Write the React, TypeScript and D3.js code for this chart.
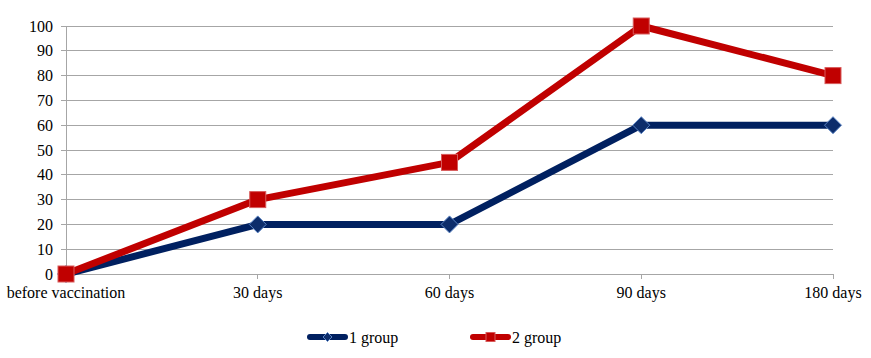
import React from "react";
import * as d3 from "d3";

const categories = ["before vaccination", "30 days", "60 days", "90 days", "180 days"];
const group1 = [0, 20, 20, 60, 60];
const group2 = [0, 30, 45, 100, 80];
const yTicks = [0, 10, 20, 30, 40, 50, 60, 70, 80, 90, 100];
const seriesNames = ["1 group", "2 group"];

const W = 871;
const H = 358;
const GRID = "#a6a6a6";
const FONT = "Liberation Serif";
const FS = 16;

const diamond = (cx: number, cy: number, r: number) =>
  `M${cx},${cy - r}L${cx + r},${cy}L${cx},${cy + r}L${cx - r},${cy}Z`;

export default function App() {
  const x = d3.scalePoint<string>().domain(categories).range([66, 833]);
  const y = d3.scaleLinear().domain([0, 100]).range([274, 26]);
  const line = d3.line<number>().x((_, i) => x(categories[i])!).y(d => y(d));
  const ly = 337;
  const legend = [
    { x0: 307, color: "#002060", name: seriesNames[0], kind: "diamond" },
    { x0: 470, color: "#c00000", name: seriesNames[1], kind: "square" },
  ];
  return (
    <svg width={W} height={H}
      style={{ position: "absolute", left: 0, top: 0, background: "#fff", display: "block" }}>
      <g shapeRendering="crispEdges" stroke={GRID}>
        {yTicks.filter(t => t > 0).map(t => (
          <line key={"g" + t} x1={66} x2={833} y1={y(t)} y2={y(t)} />
        ))}
        <line x1={66} x2={66} y1={y(100)} y2={y(0)} />
        {yTicks.map(t => (
          <line key={"t" + t} x1={61} x2={66} y1={y(t)} y2={y(t)} />
        ))}
        <line x1={66} x2={833} y1={y(0)} y2={y(0)} />
        {categories.map(c => (
          <line key={"x" + c} x1={x(c)} x2={x(c)} y1={y(0)} y2={y(0) + 5} />
        ))}
      </g>
      {yTicks.map(t => (
        <text key={"l" + t} x={53} y={y(t) + 5.5} textAnchor="end" fill="#000"
          fontFamily={FONT} fontSize={FS}>{t}</text>
      ))}
      {categories.map(c => (
        <text key={"c" + c} x={x(c)} y={298} textAnchor="middle" fill="#000"
          fontFamily={FONT} fontSize={FS}>{c}</text>
      ))}
      <path d={line(group1) || ""} fill="none" stroke="#002060" strokeWidth={7} strokeLinejoin="round" />
      {group1.map((d, i) => (
        <path key={"d" + i} d={diamond(x(categories[i])!, y(d), 8.5)}
          fill="#0d2d6b" stroke="#5b84c4" strokeWidth={1} />
      ))}
      <path d={line(group2) || ""} fill="none" stroke="#c00000" strokeWidth={7} strokeLinejoin="round" />
      {group2.map((d, i) => (
        <rect key={"s" + i} x={x(categories[i])! - 8} y={y(d) - 8} width={16} height={16}
          fill="#c00000" stroke="#d85a5a" strokeWidth={1} />
      ))}
      {legend.map(it => {
        const cx = it.x0 + 20.5;
        return (
          <g key={it.name}>
            <line x1={it.x0 + 3} x2={it.x0 + 38} y1={ly} y2={ly}
              stroke={it.color} strokeWidth={6} strokeLinecap="round" />
            {it.kind === "diamond" ? (
              <path d={diamond(cx, ly, 4.5)} fill="#0d2d6b" stroke="#5b84c4" strokeWidth={1} />
            ) : (
              <rect x={cx - 4.5} y={ly - 4.5} width={9} height={9}
                fill="#c00000" stroke="#d85a5a" strokeWidth={1} />
            )}
            <text x={it.x0 + 42} y={ly + 5.5} fill="#000" fontFamily={FONT} fontSize={FS}>{it.name}</text>
          </g>
        );
      })}
    </svg>
  );
}
